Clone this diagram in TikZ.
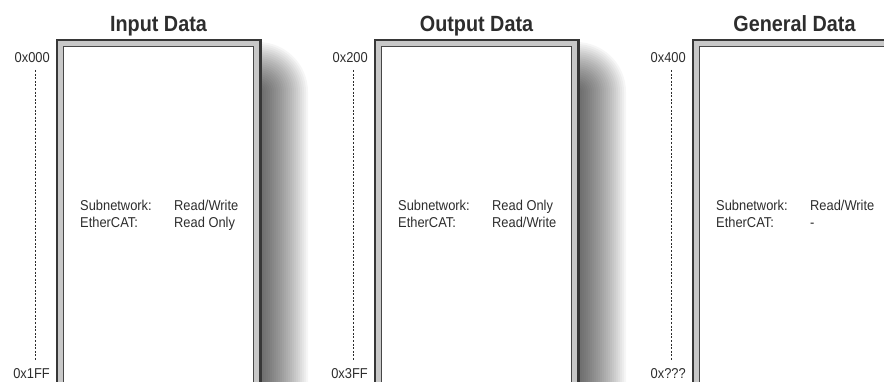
\documentclass[tikz,border=0pt]{standalone}
\usepackage{fontspec}
\newfontfamily\cond[FakeStretch=0.9]{Liberation Sans}
\definecolor{boxdark}{RGB}{55,55,55}
\definecolor{boxgray}{RGB}{200,200,200}
\definecolor{innerline}{RGB}{70,70,70}
\definecolor{txt}{RGB}{45,45,45}
\tikzset{
  titletext/.style={font=\cond\bfseries\fontsize{22}{26}\selectfont, text=txt, inner sep=0pt},
  smalltext/.style={font=\cond\fontsize{14.3}{17}\selectfont, text=txt, inner sep=0pt},
  addrline/.style={draw=txt, line width=0.8pt, dash pattern=on 2pt off 1.6pt},
  outerbox/.style={line width=2.2pt, draw=boxdark, fill=boxgray},
  innerbox/.style={line width=0.9pt, draw=innerline, fill=white},
}
\newcommand\memblock[7]{%
  % #1 left edge, #2 prefix, #3 title, #4 top addr, #5 bottom addr, #6 subnetwork, #7 ethercat
  \pgfmathsetmacro\memR{#1+205}
  \foreach \k in {1,...,25}{%
    \pgfmathsetmacro\e{\k*2}
    \fill[black, opacity=0.036, rounded corners=\e pt] ({#1+60-\e},{92-\e}) rectangle ({\memR+\e-3},440);
  }
  \draw[outerbox] ({#1+1.1},40.1) rectangle ({#1+204.4},440);
  \draw[innerbox] ({#1+7.8},46.5) rectangle ({#1+197},440);
  \node[titletext, anchor=base] (#2title) at ({#1+102.5},31.5) {#3};
  \node[smalltext, anchor=base east] (#2top) at ({#1-6},62.5) {#4};
  \node[smalltext, anchor=base east] (#2bot) at ({#1-6},378) {#5};
  \coordinate (#2ds) at ({#1-21},70);
  \coordinate (#2de) at ({#1-21},360);
  \draw[addrline] (#2ds) -- (#2de);
  \node[smalltext, anchor=base west] (#2subk) at ({#1+24},210.5) {Subnetwork:};
  \node[smalltext, anchor=base west] (#2subv) at ({#1+118},210.5) {#6};
  \node[smalltext, anchor=base west] (#2ethk) at ({#1+24},228) {EtherCAT:};
  \node[smalltext, anchor=base west] (#2ethv) at ({#1+118},228) {#7};
}
\begin{document}
\begin{tikzpicture}[x=1pt,y=-1pt]
\useasboundingbox (0,0) rectangle (884,382);
\clip (0,0) rectangle (884,382);
\memblock{56}{in}{Input Data}{0x000}{0x1FF}{Read/Write}{Read Only}
\memblock{374}{out}{Output Data}{0x200}{0x3FF}{Read Only}{Read/Write}
\memblock{692}{gen}{General Data}{0x400}{0x???}{Read/Write}{-}
\end{tikzpicture}
\end{document}
